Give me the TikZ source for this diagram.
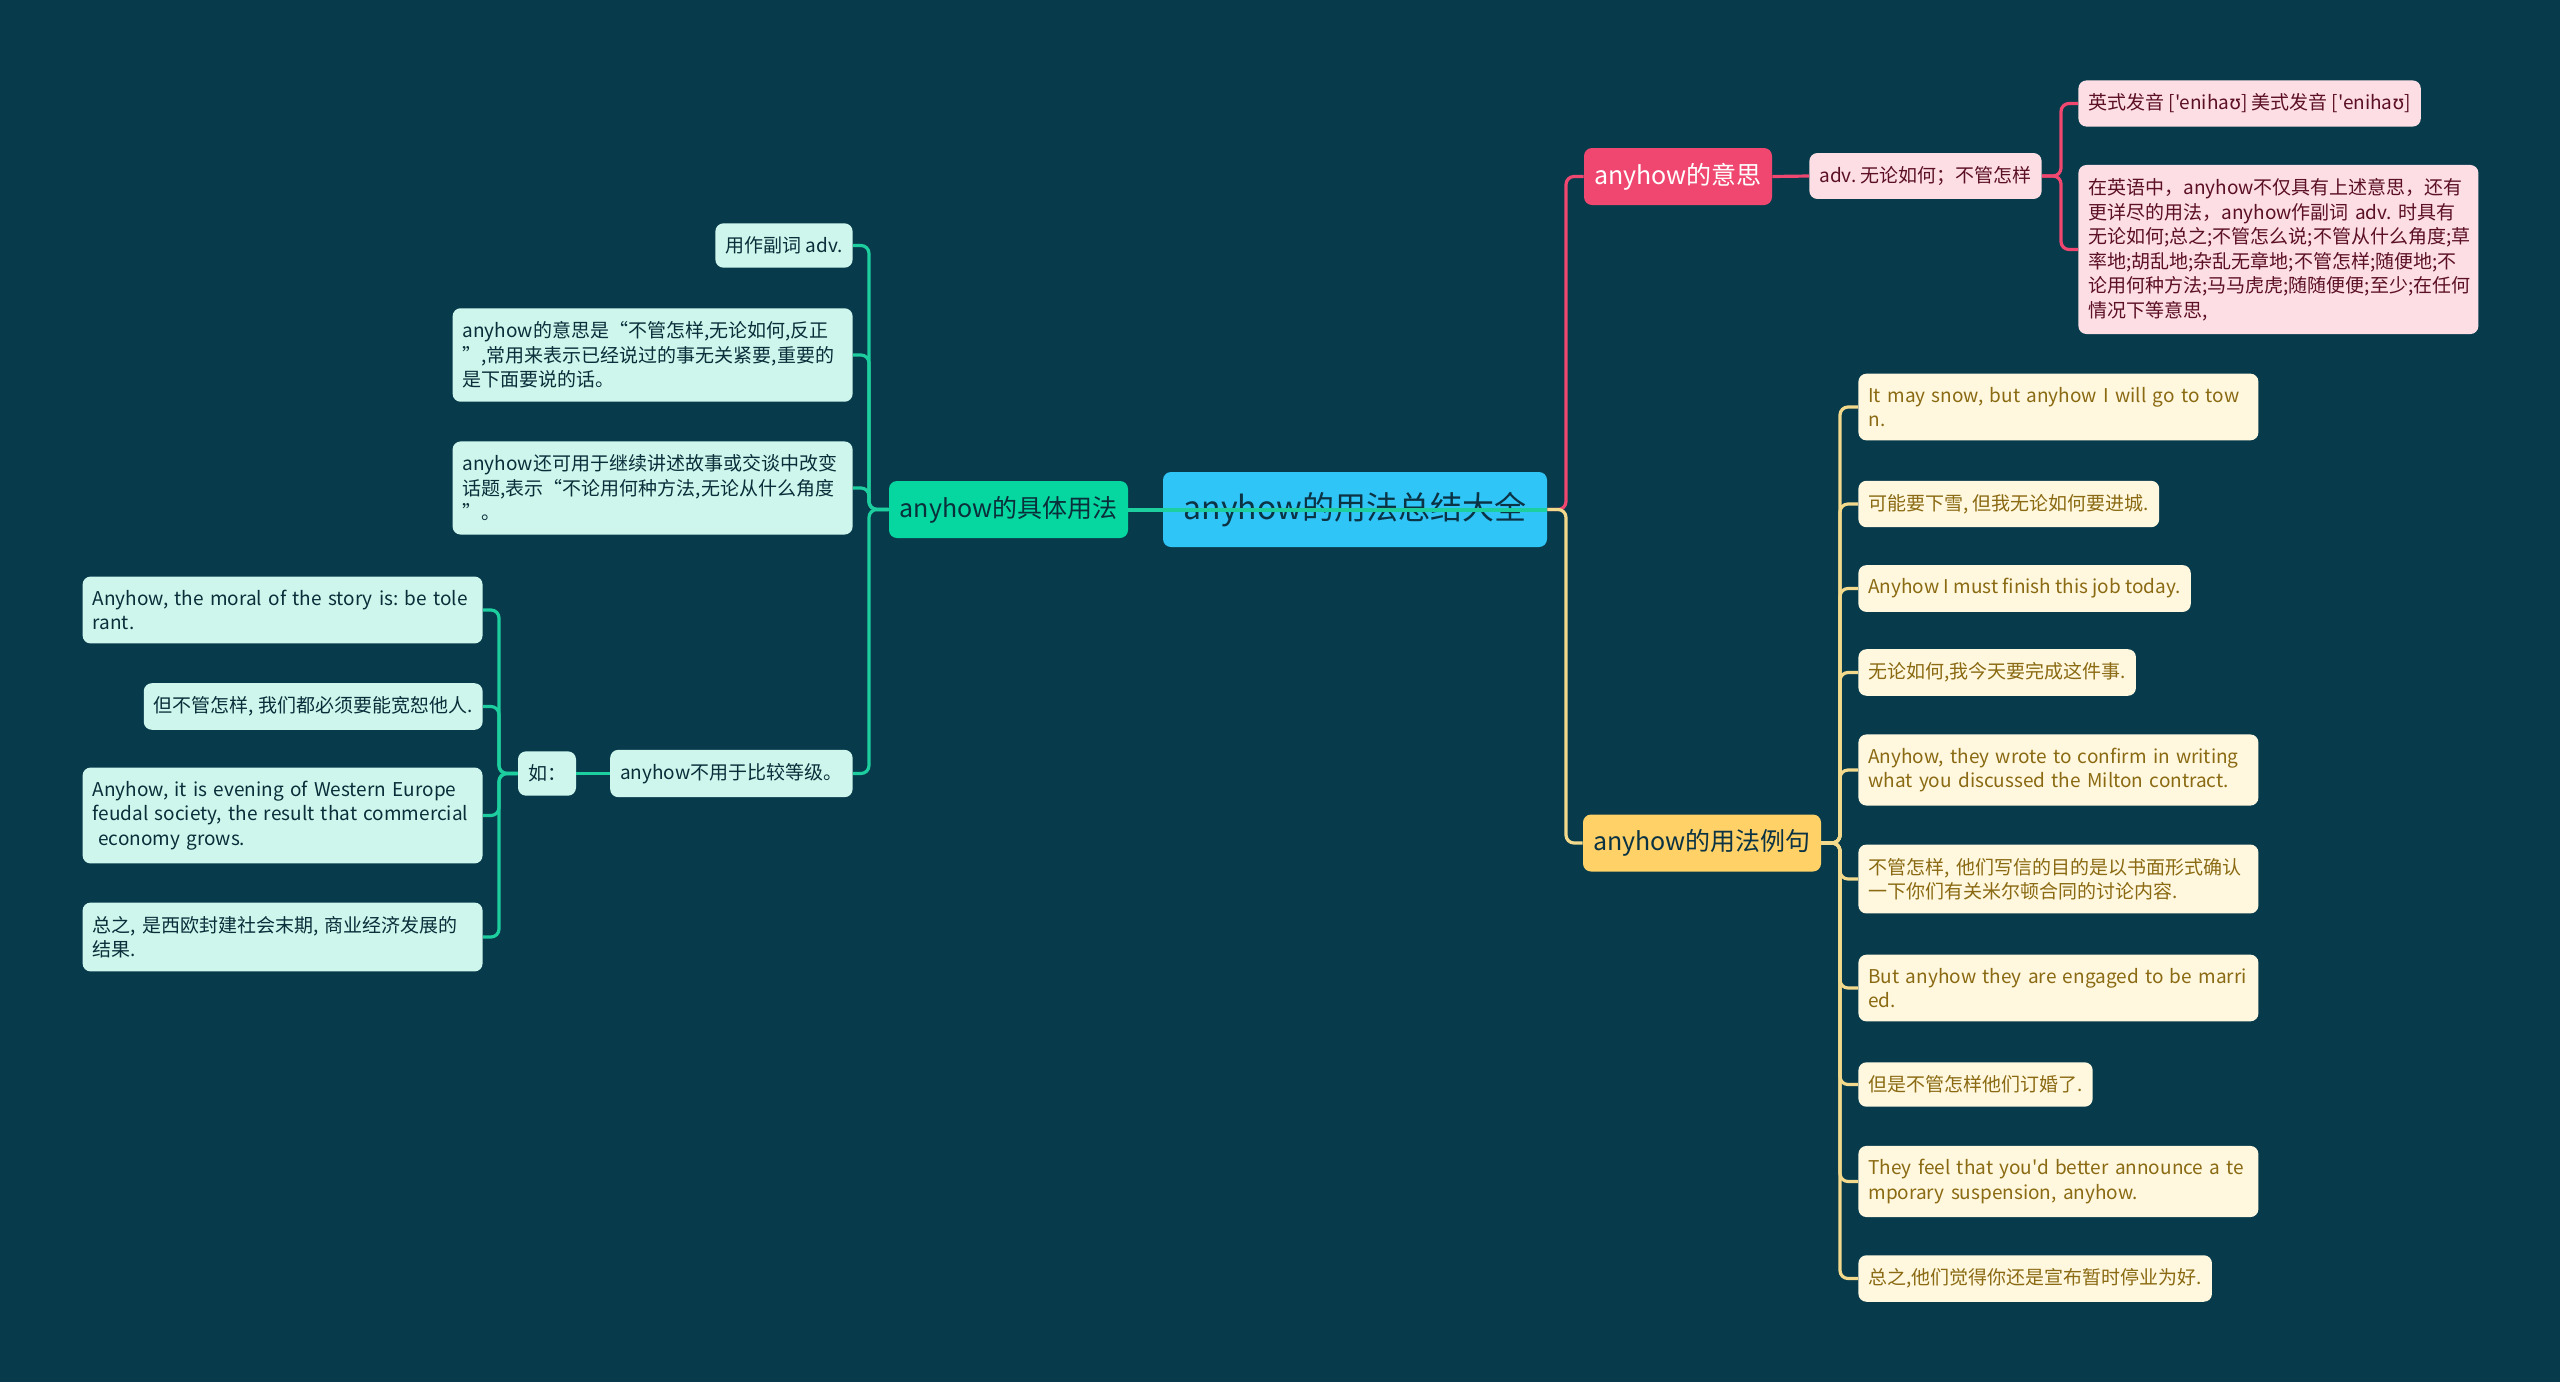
\documentclass[tikz,border=0pt]{standalone}
\usepackage{fontspec}
\newfontfamily\cjk{Noto Sans CJK SC}
\newfontfamily\ipa{DejaVu Sans}
\definecolor{bg}{HTML}{073B4C}
\definecolor{rootfill}{HTML}{30C5F7}
\definecolor{rootink}{HTML}{0B3344}
\definecolor{grfill}{HTML}{06D6A0}
\definecolor{grleaf}{HTML}{CFF6EC}
\definecolor{grink}{HTML}{0A2E3A}
\definecolor{grline}{HTML}{1DCE9E}
\definecolor{pkfill}{HTML}{EF476F}
\definecolor{pkleaf}{HTML}{FDDEE4}
\definecolor{pkink}{HTML}{5C1025}
\definecolor{yefill}{HTML}{FFD166}
\definecolor{yeleaf}{HTML}{FFF7DE}
\definecolor{yeink}{HTML}{8A6A12}
\definecolor{yeline}{HTML}{F3D98B}
\begin{document}
\begin{tikzpicture}[x=0.5pt,y=-0.5pt,
  box/.style={rounded corners=4pt,inner xsep=5pt,inner ysep=6.7pt,align=left,font=\cjk\fontsize{9.5}{12.25}\selectfont\frenchspacing},
  topic/.style={rounded corners=4pt,inner sep=0pt,align=center,font=\cjk\fontsize{12.5}{15}\selectfont,minimum height=28.5pt},
  grleafbox/.style={box,fill=grleaf,text=grink},
  pkleafbox/.style={box,fill=pkleaf,text=pkink,anchor=west},
  yeleafbox/.style={box,fill=yeleaf,text=yeink,anchor=west},
  wide/.style={text width=190pt},
  grconn/.style={draw=grline,line width=1.6pt,rounded corners=4pt},
  pkconn/.style={draw=pkfill,line width=1.6pt,rounded corners=4pt},
  yeconn/.style={draw=yeline,line width=1.6pt,rounded corners=4pt}]
\fill[bg](0,0)rectangle(2560,1382);
% centre
\node[topic,fill=rootfill,text=rootink,minimum width=192pt,minimum height=37.5pt,font=\cjk\fontsize{16}{19}\selectfont](root)at(1355,509.5){anyhow的用法总结大全};
% green branch
\node[topic,fill=grfill,text=grink,minimum width=119.5pt](usage)at(1008.5,509.5){anyhow的具体用法};
\node[grleafbox,anchor=east](adverb)at(853,245.5){用作副词 adv.};
\node[grleafbox,wide,anchor=east](meaning)at(853,355){anyhow的意思是“不管怎样,无论如何,反正\\”,常用来表示已经说过的事无关紧要,重要的\\是下面要说的话。};
\node[grleafbox,wide,anchor=east](topicchg)at(853,488){anyhow还可用于继续讲述故事或交谈中改变\\话题,表示“不论用何种方法,无论从什么角度\\”。};
\node[grleafbox,anchor=east](nocomp)at(853,773.5){anyhow不用于比较等级。};
\node[grleafbox](ru)at(547,773.5){如：};
\node[grleafbox,wide,anchor=east](exa)at(483,610){Anyhow, the moral of the story is: be tole\\rant.};
\node[grleafbox,anchor=east](exb)at(483,706.5){但不管怎样, 我们都必须要能宽恕他人.};
\node[grleafbox,wide,anchor=east](exc)at(483,815.5){Anyhow, it is evening of Western Europe\\feudal society, the result that commercial\\\hspace{0.3em}economy grows.};
\node[grleafbox,wide,anchor=east](exd)at(483,937){总之, 是西欧封建社会末期, 商业经济发展的\\结果.};
% pink branch
\node[topic,fill=pkfill,text=white,minimum width=94pt](sense)at(1678,176.5){anyhow的意思};
\node[pkleafbox](advnode)at(1809,176){adv. 无论如何；不管怎样};
\node[pkleafbox](pron)at(2078,103.5){英式发音 ['eniha{\ipa ʊ}] 美式发音 ['eniha{\ipa ʊ}]};
\node[pkleafbox,wide](detail)at(2078,249.5){在英语中，anyhow不仅具有上述意思，还有\\更详尽的用法，anyhow作副词 adv. 时具有\\无论如何;总之;不管怎么说;不管从什么角度;草\\率地;胡乱地;杂乱无章地;不管怎样;随便地;不\\论用何种方法;马马虎虎;随随便便;至少;在任何\\情况下等意思,};
% yellow branch
\node[topic,fill=yefill,text=rootink,minimum width=119pt](sample)at(1702,843){anyhow的用法例句};
\node[yeleafbox,wide](sa)at(1858,407){It may snow, but anyhow I will go to tow\\n.};
\node[yeleafbox](sb)at(1858,504){可能要下雪, 但我无论如何要进城.};
\node[yeleafbox](sc)at(1858,588.5){Anyhow I must finish this job today.};
\node[yeleafbox](sd)at(1858,672.5){无论如何,我今天要完成这件事.};
\node[yeleafbox,wide](se)at(1858,770){Anyhow, they wrote to confirm in writing\\what you discussed the Milton contract.};
\node[yeleafbox,wide](sf)at(1858,879){不管怎样, 他们写信的目的是以书面形式确认\\一下你们有关米尔顿合同的讨论内容.};
\node[yeleafbox,wide](sg)at(1858,988){But anyhow they are engaged to be marri\\ed.};
\node[yeleafbox](sh)at(1858,1084.5){但是不管怎样他们订婚了.};
\node[yeleafbox,wide](si)at(1858,1181.5){They feel that you'd better announce a te\\mporary suspension, anyhow.};
\node[yeleafbox](sj)at(1858,1278.5){总之,他们觉得你还是宣布暂时停业为好.};
% connectors
\coordinate(rootfork)at(1566,509.5);
\coordinate(usagefork)at(869,509.5);
\coordinate(rufork)at(499,773.5);
\coordinate(advfork)at(2061,176);
\coordinate(samplefork)at(1840,843);
\draw[pkconn](root.east)--(rootfork)|-(sense.west);
\draw[yeconn](root.east)--(rootfork)|-(sample.west);
\draw[grconn,line width=2pt](root.east)--(usage.east);
\foreach \n in {adverb,meaning,topicchg,nocomp}\draw[grconn](usage.west)--(usagefork)|-(\n.east);
\draw[grconn](nocomp.west)--(ru.east);
\foreach \n in {exa,exb,exc,exd}\draw[grconn](ru.west)--(rufork)|-(\n.east);
\draw[pkconn](sense.east)--(advnode.west);
\foreach \n in {pron,detail}\draw[pkconn](advnode.east)--(advfork)|-(\n.west);
\foreach \n in {sa,sb,sc,sd,se,sf,sg,sh,si,sj}\draw[yeconn](sample.east)--(samplefork)|-(\n.west);
\end{tikzpicture}
\end{document}
